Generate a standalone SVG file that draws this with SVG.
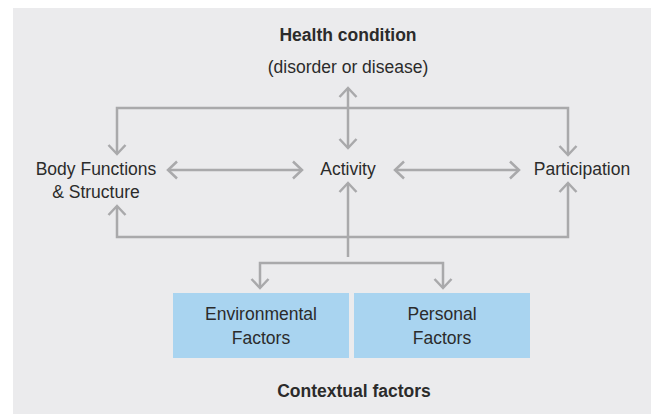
<svg xmlns="http://www.w3.org/2000/svg" width="651" height="414" viewBox="0 0 651 414">
<style>
.t{font-family:"Liberation Sans",Arial,sans-serif;font-size:17.5px;fill:#2b2b2b;text-anchor:middle}
.b{font-weight:bold}
.c{fill:none;stroke:#a9a9ab;stroke-width:2.5}
.box{fill:#a9d4f0}
</style>
<defs>
<marker id="ah" markerUnits="userSpaceOnUse" viewBox="-12 -10 14 20" markerWidth="14" markerHeight="20" refX="0" refY="0" orient="auto-start-reverse">
<path d="M-9,-8.5 L0,0 L-9,8.5" fill="none" stroke="#a9a9ab" stroke-width="2.5"/>
</marker>
</defs>
<rect x="13" y="8" width="638" height="406" fill="#ebebed"/>
<g id="connectors">
<path class="c" d="M117,154 V108 H568 V155" marker-start="url(#ah)" marker-end="url(#ah)"/>
<path class="c" d="M348,88 V148" marker-start="url(#ah)" marker-end="url(#ah)"/>
<path class="c" d="M117,206 V237 H568 V183" marker-start="url(#ah)" marker-end="url(#ah)"/>
<path class="c" d="M348,183 V257" marker-start="url(#ah)"/>
<path class="c" d="M260,288 V263 H443 V288" marker-start="url(#ah)" marker-end="url(#ah)"/>
<path class="c" d="M168,170 H302" marker-start="url(#ah)" marker-end="url(#ah)"/>
<path class="c" d="M395,170 H519" marker-start="url(#ah)" marker-end="url(#ah)"/>
</g>
<g id="health">
<text class="t b" x="348" y="41">Health condition</text>
<text class="t" x="348" y="73">(disorder or disease)</text>
</g>
<g id="body">
<text class="t" x="96" y="175">Body Functions</text>
<text class="t" x="96" y="198">&amp; Structure</text>
</g>
<g id="activity">
<text class="t" x="348" y="175">Activity</text>
</g>
<g id="participation">
<text class="t" x="582" y="175">Participation</text>
</g>
<g id="environmental">
<rect class="box" x="173" y="293" width="176" height="65"/>
<text class="t" x="261" y="320">Environmental</text>
<text class="t" x="261" y="344">Factors</text>
</g>
<g id="personal">
<rect class="box" x="354" y="293" width="176" height="65"/>
<text class="t" x="442" y="320">Personal</text>
<text class="t" x="442" y="344">Factors</text>
</g>
<g id="contextual">
<text class="t b" x="354" y="397">Contextual factors</text>
</g>
</svg>
